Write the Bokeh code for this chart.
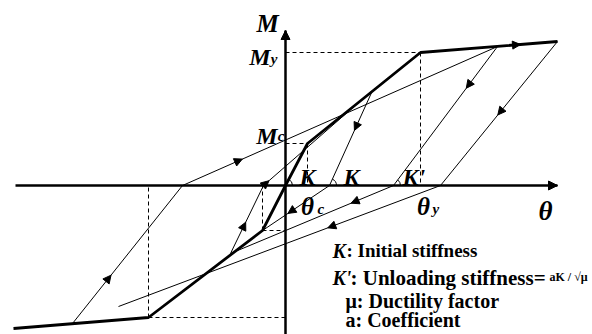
import numpy as np
from bokeh.plotting import figure
from bokeh.models import Range1d, Arrow, NormalHead
from bokeh.embed import file_html
from bokeh.resources import INLINE
from bokeh.core.properties import value

# ---------------- data (theta, M) ----------------
# skeleton curve: origin -> crack -> yield -> end
skel_pos_theta = [0, 22, 135, 272]
skel_pos_M = [0, 42, 133, 144]
skel_neg_theta = [0, -23, -137, -272]
skel_neg_M = [0, -45, -132, -143]

# hysteresis branches: unloading start -> zero crossing -> reloading target
loop_A_theta = [87, 44, -23]
loop_A_M = [95, 0, -45]
loop_B_theta = [-55, -22, 87]
loop_B_M = [-68, 0, 95]
loop_C_theta = [212, 108, -55]
loop_C_M = [139, 0, -68]
loop_D_theta = [272, 155, -167]
loop_D_M = [144, 0, -121]
loop_F_theta = [-213, -103, 212]
loop_F_M = [-138, 0, 139]

# axes extents
theta_axis = [-270, 272]
M_axis = [-160, 155]

# arrow positions: (branch, segment index, fraction along segment)
arrow_marks = [("A", 0, 0.42), ("A", 1, 0.62), ("B", 0, 0.46), ("B", 1, 0.05),
               ("C", 0, 0.30), ("C", 1, 0.26), ("D", 0, 0.51), ("D", 1, 0.35),
               ("F", 0, 0.35), ("F", 1, 0.19), ("S", 2, 0.73)]

FONT = value("Liberation Serif")
TEXT_LIFT = 7  # compensate baseline placement

p = figure(width=592, height=334, x_range=Range1d(-285, 307), y_range=Range1d(-149, 185),
           output_backend="svg", toolbar_location=None, min_border=0)
p.axis.visible = False
p.grid.visible = False
p.outline_line_color = None
p.background_fill_color = "white"
p.border_fill_color = "white"

# dashed guide lines
c_th, c_M = skel_pos_theta[1], skel_pos_M[1]
y_th, y_M = skel_pos_theta[2], skel_pos_M[2]
nc_th, nc_M = skel_neg_theta[1], skel_neg_M[1]
ny_th, ny_M = skel_neg_theta[2], skel_neg_M[2]
p.segment(x0=[0, y_th, 0, c_th, ny_th, ny_th, nc_th, nc_th],
          y0=[y_M, y_M, c_M, c_M, ny_M, ny_M, nc_M, nc_M],
          x1=[y_th, y_th, c_th, c_th, 0, ny_th, 0, nc_th],
          y1=[y_M, 0, c_M, 0, ny_M, 0, nc_M, 0],
          line_color="black", line_width=1, line_dash="4 3")

# axes
p.line(theta_axis, [0, 0], line_color="black", line_width=2.5)
p.line([0, 0], M_axis, line_color="black", line_width=2.5)
for xs, ys, xe, ye in [(theta_axis[1] - 5, 0, theta_axis[1], 0), (0, M_axis[1] - 5, 0, M_axis[1])]:
    p.add_layout(Arrow(end=NormalHead(size=9, fill_color="black", line_color="black"),
                       x_start=xs, y_start=ys, x_end=xe, y_end=ye, line_alpha=0))

# hysteresis loops (thin)
branches = {"A": (loop_A_theta, loop_A_M), "B": (loop_B_theta, loop_B_M),
            "C": (loop_C_theta, loop_C_M), "D": (loop_D_theta, loop_D_M),
            "F": (loop_F_theta, loop_F_M), "S": (skel_pos_theta, skel_pos_M)}
for k in "ABCDF":
    th, m = branches[k]
    p.line(th, m, line_color="black", line_width=1)

# skeleton (thick)
p.line(skel_pos_theta, skel_pos_M, line_color="black", line_width=2.8)
p.line(skel_neg_theta, skel_neg_M, line_color="black", line_width=2.8)

# arrowheads along branches
for k, i, f in arrow_marks:
    th, m = branches[k]
    a = np.array([th[i], m[i]], float)
    b = np.array([th[i + 1], m[i + 1]], float)
    d = (b - a) / np.linalg.norm(b - a)
    pt = a + f * (b - a)
    st = pt - 2 * d
    p.add_layout(Arrow(end=NormalHead(size=8, fill_color="black", line_color="black", line_width=1),
                       x_start=st[0], y_start=st[1], x_end=pt[0], y_end=pt[1], line_alpha=0))

# angle marks
ang_x = [0, loop_A_theta[1], loop_C_theta[1]]
ang = [np.arctan2(skel_pos_M[1], skel_pos_theta[1]),
       np.arctan2(loop_A_M[0], loop_A_theta[0] - loop_A_theta[1]),
       np.arctan2(loop_C_M[0], loop_C_theta[0] - loop_C_theta[1])]
p.arc(x=ang_x, y=[0, 0, 0], radius=7, radius_units="screen", start_angle=0, end_angle=ang,
      line_color="black", line_width=1)


def txt(x, y, s, size, style="bold italic", align="left", baseline="alphabetic"):
    p.text(x=[x], y=[y + TEXT_LIFT], text=[s], text_font=FONT, text_font_style=style,
           text_font_size=size, text_align=align, text_baseline=baseline, text_color="black")


# axis labels
txt(-18, 155, "M", "25px", align="center")
txt(-15, 122, "M", "24px", align="right")
txt(-8, 120, "y", "15px", align="right")
txt(-8, 43, "M", "24px", align="right")
txt(-1, 43, "c", "15px", align="right")
txt(260, -32, "θ", "27px", align="center")
txt(22, -28, "θ", "25px", align="center")
txt(32, -30, "c", "15px")
txt(138, -28, "θ", "25px", align="center")
txt(147, -30, "y", "15px")
txt(14, 2, "K", "24px")
txt(58, 2, "K", "24px")
txt(117, 2, "K'", "24px")

# explanation text
txt(47, -72, "K", "20px")
txt(61, -72, ": Initial stiffness", "19px", style="bold")
txt(47, -99, "K'", "20px")
txt(65, -99, ": Unloading stiffness=", "21px", style="bold")
txt(264, -98, "aK / √μ", "12px", style="bold")
txt(60, -122, "μ: Ductility factor", "20px", style="bold")
txt(60, -141, "a: Coefficient", "20px", style="bold")

open("out.html", "w").write(file_html(p, INLINE))
